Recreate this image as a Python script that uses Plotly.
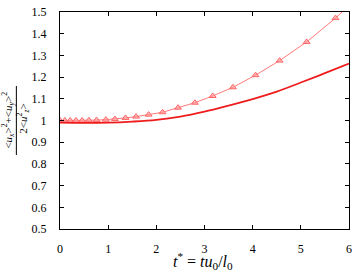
import plotly.graph_objects as go

# Data
t_sym = [0.0, 0.10, 0.21, 0.33, 0.46, 0.60, 0.76, 0.95, 1.14, 1.36, 1.58, 1.84,
         2.13, 2.45, 2.80, 3.17, 3.59, 4.06, 4.56, 5.12, 5.72, 6.0]
r_sym = [1.000, 1.000, 1.000, 1.000, 1.000, 1.001, 1.002, 1.004, 1.007, 1.012, 1.018, 1.027,
         1.038, 1.059, 1.082, 1.113, 1.153, 1.209, 1.276, 1.362, 1.472, 1.53]
n_markers = 21

t_line = [0.0, 0.5, 1.0, 1.5, 2.0, 2.5, 3.0, 3.5, 4.0, 4.5, 5.0, 5.5, 6.0]
r_line = [0.990, 0.989, 0.990, 0.995, 1.003, 1.018, 1.041, 1.069, 1.099, 1.133, 1.175, 1.218, 1.262]

x_ticks = [0, 1, 2, 3, 4, 5, 6]
y_ticks = [0.5, 0.6, 0.7, 0.8, 0.9, 1.0, 1.1, 1.2, 1.3, 1.4, 1.5]
y_ticklabels = ["0.5", "0.6", "0.7", "0.8", "0.9", "1", "1.1", "1.2", "1.3", "1.4", "1.5"]

serif = "Times New Roman, Liberation Serif, serif"

fig = go.Figure()
fig.add_trace(go.Scatter(
    x=t_sym, y=r_sym, mode="lines",
    line=dict(color="#ff7a7a", width=1), showlegend=False, hoverinfo="skip"))
fig.add_trace(go.Scatter(
    x=t_sym[:n_markers], y=r_sym[:n_markers], mode="markers",
    marker=dict(symbol="triangle-up", size=6, color="rgba(255,150,150,0.6)",
                line=dict(color="#ff6666", width=1)),
    showlegend=False, hoverinfo="skip", cliponaxis=True))
fig.add_trace(go.Scatter(
    x=t_line, y=r_line, mode="lines", line=dict(color="#ee1c1c", width=1.8, shape="spline"),
    showlegend=False, hoverinfo="skip"))

axis_common = dict(
    showgrid=False, zeroline=False, showline=True, linecolor="black", linewidth=1,
    mirror="ticks", ticks="inside", ticklen=4, tickcolor="black", tickwidth=1,
    tickfont=dict(family=serif, size=12, color="black"), ticklabeloverflow="allow",
)
fig.update_xaxes(range=[0, 6], tickvals=x_ticks, ticktext=[str(v) for v in x_ticks],
                 ticklabelstandoff=9, **axis_common)
fig.update_yaxes(range=[0.5, 1.5], tickvals=y_ticks, ticktext=y_ticklabels,
                 ticklabelstandoff=10, **axis_common)

fig.update_layout(
    width=357, height=273,
    margin=dict(l=60, r=5, t=6, b=44),
    paper_bgcolor="white", plot_bgcolor="white",
    font=dict(family=serif, color="black"),
)

# x-axis title
fig.add_annotation(
    xref="paper", yref="paper", x=0.495, y=-0.147, xanchor="center", yanchor="middle",
    text="<i>t</i><sup>*</sup> = <i>tu</i><sub>0</sub>/<i>l</i><sub>0</sub>",
    showarrow=False, font=dict(family=serif, size=16, color="black"))

# y-axis title as a fraction (numerator / bar / denominator), rotated
fig.add_annotation(
    xref="paper", yref="paper", x=-0.178, y=0.502, xanchor="center", yanchor="middle",
    textangle=-90,
    text="&lt;<i>u<sub>x</sub></i>&gt;<sup>2</sup>+&lt;<i>u<sub>y</sub></i>&gt;<sup>2</sup>",
    showarrow=False, font=dict(family=serif, size=11, color="black"))
fig.add_annotation(
    xref="paper", yref="paper", x=-0.127, y=0.51, xanchor="center", yanchor="middle",
    textangle=-90,
    text="2&lt;<i>u</i><sup>2</sup><sub><i>z</i></sub>&gt;",
    showarrow=False, font=dict(family=serif, size=11, color="black"))
fig.add_shape(type="line", xref="paper", yref="paper",
              x0=-0.151, x1=-0.151, y0=0.341, y1=0.659,
              line=dict(color="black", width=1))

fig.write_html("out.html", config={"displayModeBar": False},
               post_script="document.body.style.margin='0';document.body.style.padding='0';")
